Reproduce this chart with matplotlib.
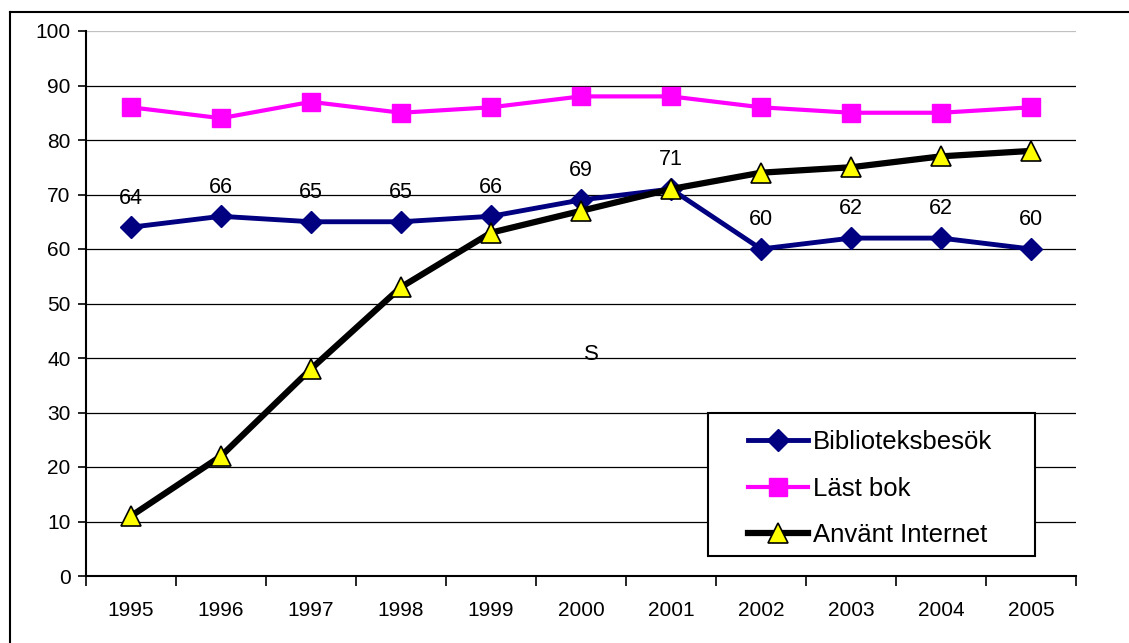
import matplotlib
matplotlib.use("Agg")
import matplotlib.pyplot as plt
from matplotlib.lines import Line2D
from matplotlib.patches import Rectangle

plt.rcParams['font.family'] = ['Liberation Sans', 'DejaVu Sans']

# Data
years = ['1995', '1996', '1997', '1998', '1999', '2000',
         '2001', '2002', '2003', '2004', '2005']
bibliotek = [64, 66, 65, 65, 66, 69, 71, 60, 62, 62, 60]
last_bok = [86, 84, 87, 85, 86, 88, 88, 86, 85, 85, 86]
internet = [11, 22, 38, 53, 63, 67, 71, 74, 75, 77, 78]
y_ticks = [0, 10, 20, 30, 40, 50, 60, 70, 80, 90, 100]

W, H = 1129, 643
fig = plt.figure(figsize=(W / 100, H / 100), dpi=100)
ax = fig.add_axes([86 / W, 1 - 576 / H, 990 / W, 545 / H])

x = list(range(len(years)))

# Gridlines (top one grey, others black)
for v in y_ticks[1:]:
    ax.axhline(v, color='#c0c0c0' if v == 100 else 'black', linewidth=0.9, zorder=1)

ax.plot(x, bibliotek, color='#000080', linewidth=3.5, marker='D', markersize=11,
        markerfacecolor='#000080', markeredgecolor='#000080', zorder=3,
        label='Biblioteksbesök')
ax.plot(x, last_bok, color='#ff00ff', linewidth=3, marker='s', markersize=13,
        markerfacecolor='#ff00ff', markeredgecolor='#ff00ff', zorder=3,
        label='Läst bok')
ax.plot(x, internet, color='black', linewidth=4.5, marker='^', markersize=14,
        markerfacecolor='#ffff00', markeredgecolor='black', markeredgewidth=1.2,
        zorder=4, label='Använt Internet')

# Data labels for library visits
for xi, v in zip(x, bibliotek):
    ax.annotate(str(v), (xi, v), xytext=(0, 21), textcoords='offset points',
                ha='center', va='center', fontsize=15.5, zorder=5)

ax.text(5.12, 40.6, 'S', ha='center', va='center', fontsize=16)

ax.set_xlim(-0.5, 10.5)
ax.set_ylim(0, 100)
ax.set_yticks(y_ticks)
ax.tick_params(axis='y', direction='out', length=6, width=1.2, pad=5,
               labelsize=15)
ax.set_xticks(x)
ax.set_xticklabels(years)
ax.set_xticks([i - 0.5 for i in range(len(years) + 1)], minor=True)
ax.tick_params(axis='x', which='major', length=0, pad=18, labelsize=15)
ax.tick_params(axis='x', which='minor', direction='out', length=7, width=1.2)

for side in ['top', 'right']:
    ax.spines[side].set_visible(False)
for side in ['left', 'bottom']:
    ax.spines[side].set_linewidth(1.5)
    ax.spines[side].set_zorder(2)

# Legend box drawn separately so its padding can match the reference
ax.add_patch(Rectangle((708 / W, 1 - 556 / H), 327 / W, 143 / H,
                       transform=fig.transFigure, facecolor='white',
                       edgecolor='black', linewidth=1.5, zorder=5,
                       clip_on=False))
leg = ax.legend(loc='upper left', bbox_to_anchor=(748 / W, 1 - 430 / H),
                bbox_transform=fig.transFigure, fontsize=18.5, frameon=False,
                handlelength=2.33, handletextpad=0.2, labelspacing=0.88,
                borderpad=0, borderaxespad=0, numpoints=1)
leg.set_zorder(6)

# Outer frame, cut off at the right and bottom edges
fig.add_artist(Line2D([10 / W, 10 / W], [0, 1 - 12 / H], color='black',
                      linewidth=1.5, transform=fig.transFigure))
fig.add_artist(Line2D([10 / W, 1], [1 - 12 / H, 1 - 12 / H], color='black',
                      linewidth=1.5, transform=fig.transFigure))

fig.savefig('out.png', dpi=100)
